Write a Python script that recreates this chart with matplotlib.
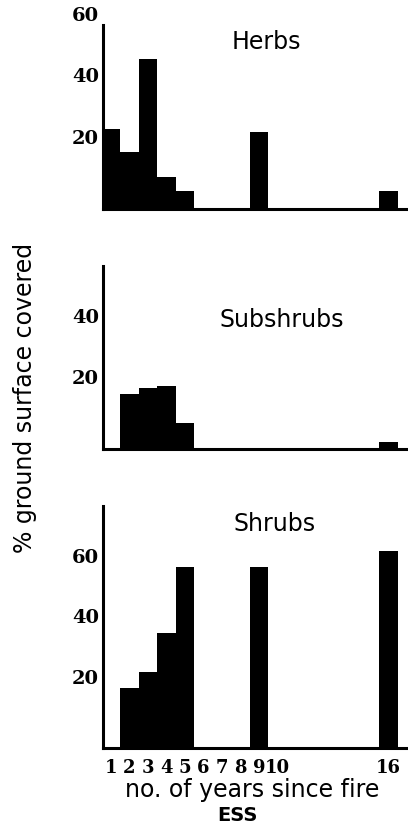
import matplotlib
matplotlib.use('Agg')
import matplotlib.pyplot as plt

# Data (% ground surface covered)
herb_years = [1, 2, 3, 4, 5, 9, 16]
herb_cover = [26, 18.5, 49, 10.5, 6, 25, 6]

subshrub_years = [2, 3, 4, 5, 16]
subshrub_cover = [18, 20, 20.5, 8.5, 2.2]

shrub_years = [2, 3, 4, 5, 9, 16]
shrub_cover = [20, 25, 38, 60, 60, 65]

x_ticks = [1, 2, 3, 4, 5, 6, 7, 8, 9, 10, 16]

panels = [
    ('Herbs', herb_years, herb_cover, (0, 60), [20, 40, 60], [0.2525, 0.7473, 0.7475, 0.2225], (0.652, 0.949)),
    ('Subshrubs', subshrub_years, subshrub_cover, (0, 60), [20, 40], [0.2525, 0.4571, 0.7475, 0.2213], (0.691, 0.613)),
    ('Shrubs', shrub_years, shrub_cover, (0, 80), [20, 40, 60], [0.2525, 0.0955, 0.7475, 0.2926], (0.672, 0.366)),
]

fig = plt.figure(figsize=(4.08, 8.27), dpi=100)

for name, yrs, cover, ylim, yticks, rect, title_pos in panels:
    ax = fig.add_axes(rect)
    ax.bar(yrs, cover, width=1.0, color='black', edgecolor='none')
    ax.set_xlim(0.58, 17.04)
    ax.set_ylim(*ylim)
    ax.spines['top'].set_visible(False)
    ax.spines['right'].set_visible(False)
    ax.spines['left'].set_linewidth(2.2)
    ax.spines['bottom'].set_linewidth(2.2)
    ax.set_yticks(yticks)
    ax.set_yticklabels([str(v) for v in yticks], family='DejaVu Serif',
                       fontweight='bold', fontsize=14)
    for lab in ax.get_yticklabels():
        lab.set_va('bottom')
    ax.tick_params(axis='y', length=0, pad=3)
    if name == 'Shrubs':
        ax.set_xticks(x_ticks)
        ax.set_xticklabels([str(v) for v in x_ticks], family='DejaVu Serif',
                           fontweight='bold', fontsize=13)
        ax.tick_params(axis='x', length=0, pad=8)
    else:
        ax.set_xticks([])
    ax.patch.set_alpha(0)
    fig.text(title_pos[0], title_pos[1], name, ha='center', va='center',
             fontsize=17, family='DejaVu Sans')

fig.text(0.061, 0.519, '% ground surface covered', rotation=90,
         ha='center', va='center', fontsize=17, family='DejaVu Sans')
fig.text(0.618, 0.045, 'no. of years since fire', ha='center', va='center',
         fontsize=17, family='DejaVu Sans')
fig.text(0.583, 0.003, 'ESS', ha='center', va='bottom', fontsize=14,
         fontweight='bold', family='DejaVu Sans')

fig.savefig('out.png', dpi=100)
